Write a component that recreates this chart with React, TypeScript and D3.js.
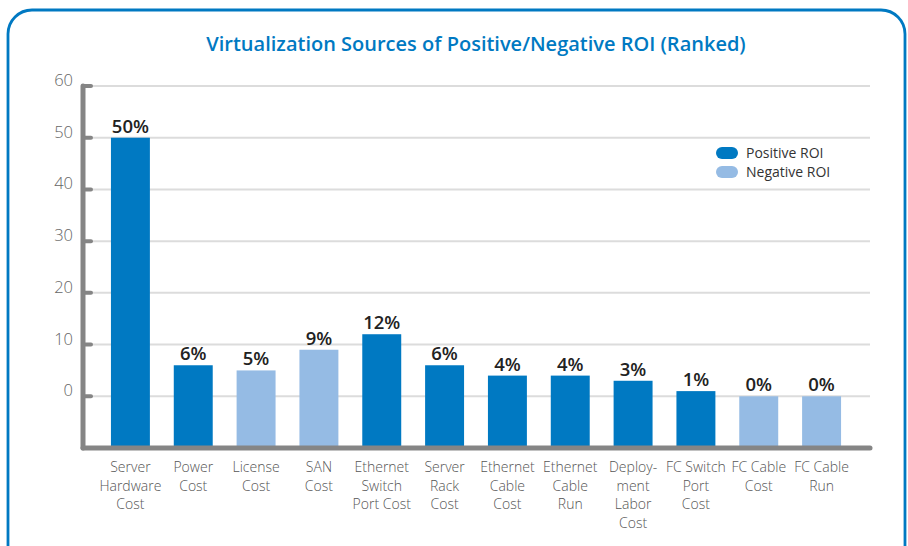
import React, { useEffect, useRef } from "react";
import * as d3 from "d3";

const categories = [
  "Server|Hardware|Cost",
  "Power|Cost",
  "License|Cost",
  "SAN|Cost",
  "Ethernet|Switch|Port Cost",
  "Server|Rack|Cost",
  "Ethernet|Cable|Cost",
  "Ethernet|Cable|Run",
  "Deploy-|ment|Labor|Cost",
  "FC Switch|Port|Cost",
  "FC Cable|Cost",
  "FC Cable|Run",
];
const values = [50, 6, 5, 9, 12, 6, 4, 4, 3, 1, 0, 0];
const kinds = ["pos", "pos", "neg", "neg", "pos", "pos", "pos", "pos", "pos", "pos", "neg", "neg"];
const yTicks = [0, 10, 20, 30, 40, 50, 60];
const legendLabels = ["Positive ROI", "Negative ROI"];

const DARK = "#0079c2";
const LIGHT = "#95bbe4";
const AXIS = "#858585";
const FONT = "'Open Sans', Roboto, sans-serif";

export default function App() {
  const ref = useRef<SVGSVGElement>(null);

  useEffect(() => {
    const svg = d3.select(ref.current);
    svg.selectAll("*").remove();

    const x = d3.scaleBand().domain(categories).range([99, 853]).paddingInner(0.38).paddingOuter(0.19);
    const y = d3.scaleLinear().domain([-10, 60]).range([448, 86]);
    const color = (k: string) => (k === "pos" ? DARK : LIGHT);

    // frame
    svg.append("rect")
      .attr("x", 8).attr("y", 10).attr("width", 897).attr("height", 560)
      .attr("rx", 24).attr("fill", "none").attr("stroke", DARK).attr("stroke-width", 2.8);

    svg.append("text")
      .attr("x", 476).attr("y", 51)
      .attr("text-anchor", "middle")
      .attr("font-family", FONT).attr("font-weight", 600).attr("font-size", 20)
      .attr("fill", DARK)
      .text("Virtualization Sources of Positive/Negative ROI (Ranked)");

    // grid
    svg.append("g").selectAll("line").data(yTicks).join("line")
      .attr("x1", 92).attr("x2", 870)
      .attr("y1", d => y(d)).attr("y2", d => y(d))
      .attr("stroke", "#dcdcdc").attr("stroke-width", 2);

    // y tick labels
    svg.append("g").selectAll("text").data(yTicks).join("text")
      .attr("x", 73).attr("y", d => y(d))
      .attr("text-anchor", "end")
      .attr("font-family", FONT).attr("font-weight", 300).attr("font-size", 16.5)
      .attr("fill", "#666")
      .text(d => d);

    // bars
    svg.append("g").selectAll("rect").data(values).join("rect")
      .attr("x", (d, i) => x(categories[i])!)
      .attr("width", x.bandwidth())
      .attr("y", d => y(d))
      .attr("height", d => y(-10) - y(d))
      .attr("fill", (d, i) => color(kinds[i]));

    // value labels
    svg.append("g").selectAll("text").data(values).join("text")
      .attr("x", (d, i) => x(categories[i])! + x.bandwidth() / 2)
      .attr("y", d => y(d) - 5)
      .attr("text-anchor", "middle")
      .attr("font-family", FONT).attr("font-weight", 600).attr("font-size", 18.5)
      .attr("fill", "#222")
      .text(d => d + "%");

    // axes
    svg.append("line")
      .attr("x1", 83).attr("x2", 83).attr("y1", 86).attr("y2", 448)
      .attr("stroke", AXIS).attr("stroke-width", 5).attr("stroke-linecap", "round");
    svg.append("line")
      .attr("x1", 83).attr("x2", 870).attr("y1", 448).attr("y2", 448)
      .attr("stroke", AXIS).attr("stroke-width", 5).attr("stroke-linecap", "round");
    svg.append("g").selectAll("line").data(yTicks).join("line")
      .attr("x1", 83).attr("x2", 91)
      .attr("y1", d => y(d)).attr("y2", d => y(d))
      .attr("stroke", AXIS).attr("stroke-width", 4).attr("stroke-linecap", "round");

    // x labels
    const xl = svg.append("g").selectAll("text").data(categories).join("text")
      .attr("x", d => x(d)! + x.bandwidth() / 2)
      .attr("y", 472)
      .attr("text-anchor", "middle")
      .attr("font-family", FONT).attr("font-weight", 300).attr("font-size", 14)
      .attr("fill", "#555");
    xl.each(function (d) {
      const t = d3.select(this);
      d.split("|").forEach((line, j) => {
        t.append("tspan")
          .attr("x", x(d)! + x.bandwidth() / 2)
          .attr("dy", j === 0 ? 0 : 18.5)
          .text(line);
      });
    });

    // legend
    const lg = svg.append("g").selectAll("g").data(legendLabels).join("g")
      .attr("transform", (d, i) => `translate(716,${153 + i * 19})`);
    lg.append("rect")
      .attr("x", 0).attr("y", -6).attr("width", 22).attr("height", 12).attr("rx", 6)
      .attr("fill", (d, i) => (i === 0 ? DARK : LIGHT));
    lg.append("text")
      .attr("x", 30).attr("y", 5)
      .attr("font-family", FONT).attr("font-size", 14)
      .attr("fill", "#333")
      .text(d => d);
  }, []);

  return <svg ref={ref} width={908} height={546} style={{ position: "absolute", left: 0, top: 0 }} />;
}
